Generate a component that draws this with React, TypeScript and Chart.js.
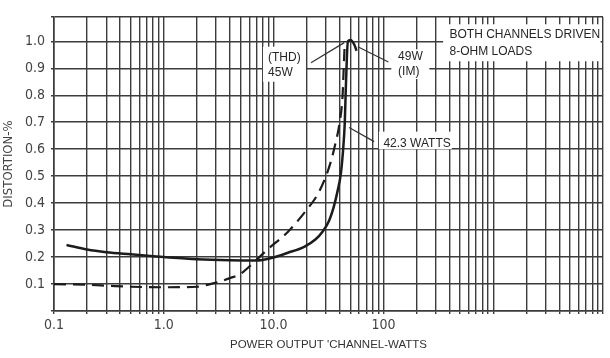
import React, { useEffect, useRef } from "react";
import { Chart, registerables } from "chart.js";

Chart.register(...registerables);

// ---- data ----
const imWatts = [0.13, 0.2, 0.3, 0.5, 0.8, 1.0, 2.0, 4.0, 7.0, 9.5, 13.5, 19, 24, 28, 32, 35.5, 38.5, 41, 43, 44.5, 45.5, 47.5, 50, 54, 57];
const imPct = [0.245, 0.228, 0.218, 0.21, 0.203, 0.2, 0.192, 0.188, 0.187, 0.196, 0.216, 0.238, 0.265, 0.295, 0.335, 0.39, 0.45, 0.51, 0.6, 0.7, 0.83, 1.0, 1.005, 0.99, 0.965];

const thdWatts = [0.1, 0.2, 0.3, 0.5, 1.0, 2.0, 2.5, 3.0, 4.0, 5.0, 6.6, 8.8, 13.4, 20, 25, 29, 33, 36.5, 40, 42.5, 43.5, 44.5];
const thdPct = [0.1, 0.097, 0.094, 0.09, 0.088, 0.09, 0.097, 0.105, 0.122, 0.138, 0.18, 0.228, 0.292, 0.375, 0.43, 0.485, 0.55, 0.62, 0.7, 0.8, 0.9, 1.0];

const xMin = 0.1;
const xMax = 10000;
const yMin = 0;
const yMax = 1.09;

const xLabelValues = [0.1, 1, 10, 100];
const xLabelTexts = ["0.1", "1.0", "10.0", "100"];
const yLabelValues = [0.1, 0.2, 0.3, 0.4, 0.5, 0.6, 0.7, 0.8, 0.9, 1.0];
const yLabelTexts = ["0.1", "0.2", "0.3", "0.4", "0.5", "0.6", "0.7", "0.8", "0.9", "1.0"];
const yGridValues = [0, 0.1, 0.2, 0.3, 0.4, 0.5, 0.6, 0.7, 0.8, 0.9, 1.0, 1.09];
const xDecades = [0.1, 1, 10, 100, 1000];
const xMultipliers = [1, 2, 3, 4, 5, 6, 7, 8, 9];

const xTitle = "POWER OUTPUT 'CHANNEL-WATTS";
const yTitle = "DISTORTION-%";

// annotation texts (data coordinates: watts, percent)
const noteTexts = ["(THD)", "45W", "49W", "(IM)", "42.3 WATTS", "BOTH CHANNELS DRIVEN", "8-OHM LOADS"];
const noteX = [8.9, 8.9, 136, 136, 100, 400, 400];
const noteY = [0.94, 0.885, 0.944, 0.888, 0.62, 1.026, 0.96];

// white boxes behind annotations: [x0, x1, y0, y1]
const boxX0 = [8.0, 118, 91, 350];
const boxX1 = [19.7, 262, 420, 9500];
const boxY0 = [0.85, 0.86, 0.6, 0.926];
const boxY1 = [0.98, 0.97, 0.665, 1.063];

// pointer lines: from (x0,y0) to (x1,y1)
const ptrX0 = [21.9, 111, 82.4];
const ptrY0 = [0.92, 0.923, 0.628];
const ptrX1 = [44, 58.5, 48.7];
const ptrY1 = [0.995, 0.98, 0.68];

const INK = "#1c1c1c";
const GRID = "#3c3c3c";
const NARROW = '"Liberation Sans Narrow", "DejaVu Sans Condensed", "Arial Narrow", sans-serif';
const SANS = '"Liberation Sans", Arial, Helvetica, sans-serif';

function xGridTicks() {
  const out: { value: number }[] = [];
  for (const d of xDecades) {
    for (const m of xMultipliers) {
      out.push({ value: Number((m * d).toPrecision(4)) });
    }
  }
  out.push({ value: xMax });
  return out;
}

function findLabel(values: number[], texts: string[], v: number) {
  for (let i = 0; i < values.length; i++) {
    if (Math.abs(values[i] - v) <= Math.abs(values[i]) * 1e-6 + 1e-9) return texts[i];
  }
  return "";
}

const notesPlugin = {
  id: "notes",
  beforeDatasetsDraw(chart: any) {
    const { ctx } = chart;
    const x = chart.scales.x;
    const y = chart.scales.y;
    ctx.save();
    ctx.fillStyle = "#ffffff";
    for (let i = 0; i < boxX0.length; i++) {
      const px0 = x.getPixelForValue(boxX0[i]);
      const px1 = x.getPixelForValue(boxX1[i]);
      const py0 = y.getPixelForValue(boxY0[i]);
      const py1 = y.getPixelForValue(boxY1[i]);
      ctx.fillRect(px0, py1, px1 - px0, py0 - py1);
    }
    ctx.strokeStyle = "#333";
    ctx.lineWidth = 1.2;
    for (let i = 0; i < ptrX0.length; i++) {
      ctx.beginPath();
      ctx.moveTo(x.getPixelForValue(ptrX0[i]), y.getPixelForValue(ptrY0[i]));
      ctx.lineTo(x.getPixelForValue(ptrX1[i]), y.getPixelForValue(ptrY1[i]));
      ctx.stroke();
    }
    ctx.fillStyle = "#262626";
    ctx.font = "12px " + SANS;
    ctx.textAlign = "left";
    ctx.textBaseline = "middle";
    for (let i = 0; i < noteTexts.length; i++) {
      ctx.fillText(noteTexts[i], x.getPixelForValue(noteX[i]), y.getPixelForValue(noteY[i]));
    }
    ctx.restore();
  },
};

export default function App() {
  const ref = useRef<HTMLCanvasElement | null>(null);

  useEffect(() => {
    document.body.style.margin = "0";
    const canvas = ref.current;
    if (!canvas) return;
    const chart = new Chart(canvas, {
      type: "line",
      data: {
        datasets: [
          {
            label: "IM",
            data: imWatts.map((w, i) => ({ x: w, y: imPct[i] })),
            borderColor: INK,
            borderWidth: 2.5,
            pointRadius: 0,
            cubicInterpolationMode: "monotone",
            fill: false,
          },
          {
            label: "THD",
            data: thdWatts.map((w, i) => ({ x: w, y: thdPct[i] })),
            borderColor: INK,
            borderWidth: 2.2,
            borderDash: [12, 7],
            pointRadius: 0,
            cubicInterpolationMode: "monotone",
            fill: false,
          },
        ],
      },
      options: {
        responsive: false,
        animation: false,
        events: [],
        layout: { padding: { top: 17, right: 7, left: 0, bottom: 0 } },
        plugins: {
          legend: { display: false },
          tooltip: { enabled: false },
        },
        scales: {
          x: {
            type: "logarithmic",
            min: xMin,
            max: xMax,
            afterBuildTicks: (scale: any) => {
              scale.ticks = xGridTicks();
            },
            afterFit: (scale: any) => {
              scale.height = 47;
            },
            grid: { color: GRID, lineWidth: 1.4, tickLength: 3, tickColor: GRID },
            border: { display: true, color: GRID, width: 1.6 },
            ticks: {
              autoSkip: false,
              maxRotation: 0,
              minRotation: 0,
              padding: 3,
              color: "#444",
              font: { family: NARROW, size: 14 },
              callback: (v: any) => findLabel(xLabelValues, xLabelTexts, Number(v)),
            },
            title: {
              display: true,
              text: xTitle,
              color: "#333",
              font: { family: SANS, size: 11.5 },
              padding: { top: 0, bottom: 6 },
            },
          },
          y: {
            type: "linear",
            min: yMin,
            max: yMax,
            afterBuildTicks: (scale: any) => {
              scale.ticks = yGridValues.map((v) => ({ value: v }));
            },
            afterFit: (scale: any) => {
              scale.width = 54;
            },
            grid: { color: GRID, lineWidth: 1.4, tickLength: 3, tickColor: GRID },
            border: { display: true, color: GRID, width: 1.6 },
            ticks: {
              autoSkip: false,
              padding: 6,
              color: "#444",
              font: { family: NARROW, size: 14 },
              callback: (v: any) => findLabel(yLabelValues, yLabelTexts, Number(v)),
            },
            title: {
              display: true,
              text: yTitle,
              color: "#444",
              font: { family: NARROW, size: 13 },
              padding: { top: 1, bottom: 0 },
            },
          },
        },
      },
      plugins: [notesPlugin],
    } as any);
    return () => chart.destroy();
  }, []);

  return (
    <div style={{ position: "fixed", left: 0, top: 0, width: 610, height: 358, background: "#fff" }}>
      <canvas ref={ref} width={610} height={358} style={{ display: "block" }} />
    </div>
  );
}
